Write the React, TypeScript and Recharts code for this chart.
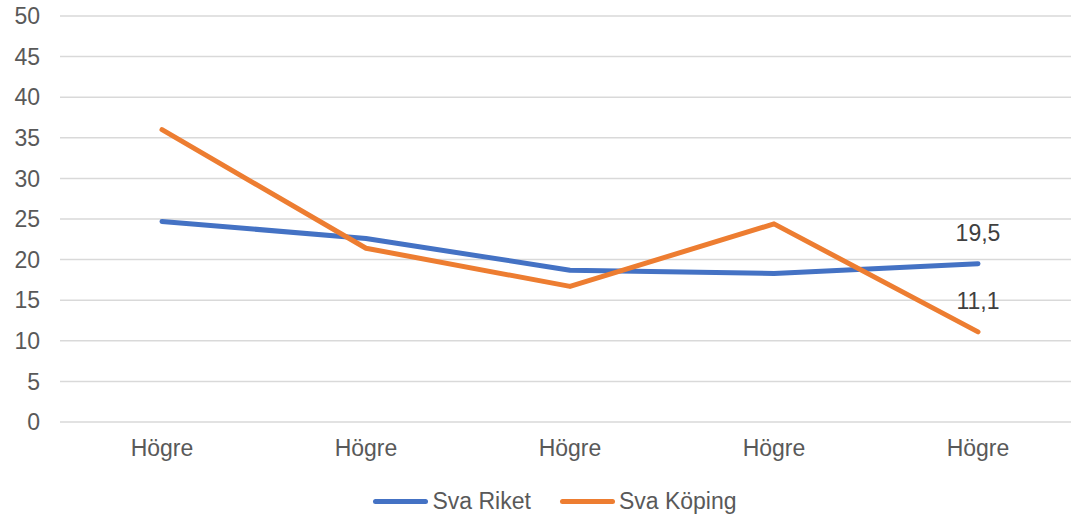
import { LineChart, Line, XAxis, YAxis, CartesianGrid, Legend, LabelList } from "recharts";

const categories = ["Högre", "Högre", "Högre", "Högre", "Högre"];
const rikeValues = [24.7, 22.6, 18.7, 18.3, 19.5];
const kopingValues = [36.0, 21.4, 16.7, 24.4, 11.1];
const yTicks = [0, 5, 10, 15, 20, 25, 30, 35, 40, 45, 50];

const data = categories.map((cat, i) => ({
  idx: i,
  cat,
  riket: rikeValues[i],
  koping: kopingValues[i],
}));

const FONT = "'Liberation Sans', Arial, sans-serif";
const BLUE = "#4472C4";
const ORANGE = "#ED7D31";

// only the last point gets a value label
const LastLabel = (props: any) => {
  const { x, y, value, index } = props;
  if (index !== data.length - 1) return null;
  return (
    <text x={x} y={y - 23} textAnchor="middle" fill="#404040" fontSize={23} fontFamily={FONT}>
      {String(value).replace(".", ",")}
    </text>
  );
};

const CustomLegend = () => {
  const items = [
    { name: "Sva Riket", color: BLUE },
    { name: "Sva Köping", color: ORANGE },
  ];
  return (
    <div
      style={{
        height: 40,
        paddingTop: 6,
        paddingLeft: 30,
        boxSizing: "border-box",
        display: "flex",
        justifyContent: "center",
        alignItems: "center",
        gap: 29,
        fontFamily: FONT,
        fontSize: 23,
        color: "#595959",
      }}
    >
      {items.map((it) => (
        <div key={it.name} style={{ display: "flex", alignItems: "center", gap: 4 }}>
          <span style={{ display: "inline-block", width: 55, height: 5, borderRadius: 3, background: it.color }} />
          <span>{it.name}</span>
        </div>
      ))}
    </div>
  );
};

export default function App() {
  return (
    <div style={{ position: "absolute", left: 0, top: 0, width: 1071, height: 518, overflow: "hidden", background: "#fff" }}>
      <LineChart width={1080} height={518} data={data} margin={{ top: 16, right: 0, left: 0, bottom: 0 }}>
        <CartesianGrid vertical={false} stroke="#d9d9d9" strokeWidth={1.5} />
        <XAxis
          dataKey="idx"
          type="category"
          padding={{ left: 102, right: 102 }}
          tickFormatter={(i: number) => categories[i]}
          height={56}
          axisLine={false}
          tickLine={false}
          tickSize={0}
          tickMargin={18}
          tick={{ fill: "#595959", fontSize: 23, fontFamily: FONT }}
        />
        <YAxis
          domain={[0, 50]}
          ticks={yTicks}
          width={60}
          axisLine={false}
          tickLine={false}
          tickSize={0}
          tickMargin={20}
          tick={{ fill: "#595959", fontSize: 23, fontFamily: FONT }}
        />
        <Legend verticalAlign="bottom" height={40} content={<CustomLegend />} />
        <Line
          type="linear"
          dataKey="riket"
          name="Sva Riket"
          stroke={BLUE}
          strokeWidth={5}
          strokeLinecap="round"
          strokeLinejoin="round"
          dot={false}
          isAnimationActive={false}
        >
          <LabelList dataKey="riket" content={<LastLabel />} />
        </Line>
        <Line
          type="linear"
          dataKey="koping"
          name="Sva Köping"
          stroke={ORANGE}
          strokeWidth={5}
          strokeLinecap="round"
          strokeLinejoin="round"
          dot={false}
          isAnimationActive={false}
        >
          <LabelList dataKey="koping" content={<LastLabel />} />
        </Line>
      </LineChart>
    </div>
  );
}
